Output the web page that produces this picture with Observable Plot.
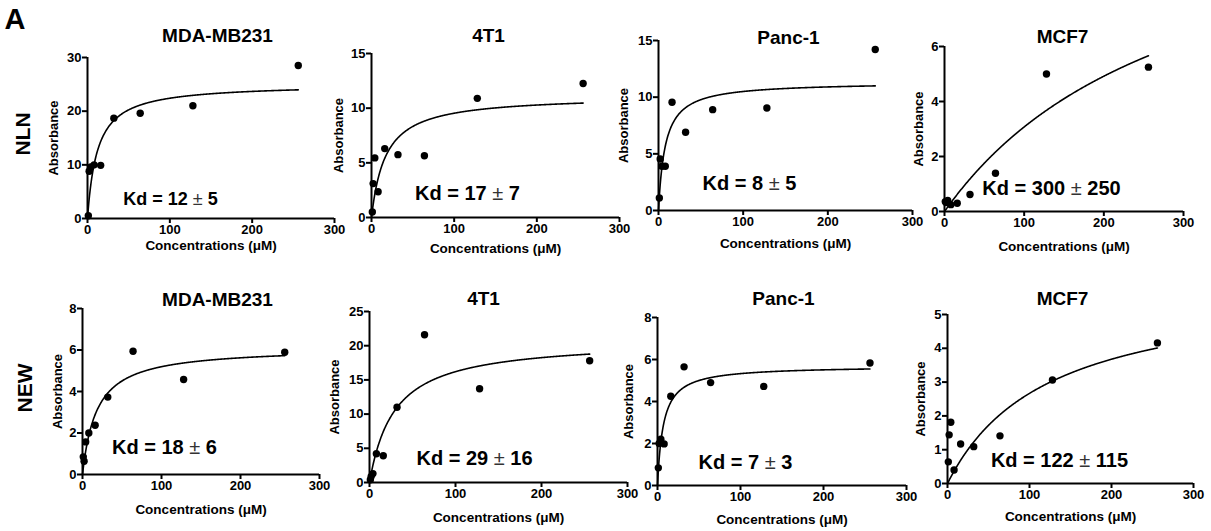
<!DOCTYPE html>
<html><head><meta charset="utf-8">
<script src="https://cdn.jsdelivr.net/npm/d3@7"></script>
<script src="https://cdn.jsdelivr.net/npm/@observablehq/plot@0.6"></script>
<style>
html,body{margin:0;padding:0;background:#fff;}
#fig{position:relative;width:1211px;height:531px;overflow:hidden;font-family:"Liberation Sans",Arial,sans-serif;background:#fff;}
.lbl{position:absolute;font-weight:bold;color:#000;white-space:nowrap;line-height:1;}
</style></head><body><div id="fig"></div>
<script>
// ---- data ----
const conc = [1, 2, 4, 8, 16, 32, 64, 128, 256];
const cellLines = ["MDA-MB231", "4T1", "Panc-1", "MCF7"];
const groups = ["NLN", "NEW"];
const nlnMDA  = [0.5, 8.8, 9.6, 10.0, 9.9, 18.7, 19.6, 21.0, 28.5];
const nln4T1  = [0.5, 3.1, 5.45, 2.35, 6.3, 5.75, 5.65, 10.9, 12.25];
const nlnPanc = [1.1, 4.55, 3.9, 3.9, 9.55, 6.9, 8.9, 9.05, 14.2];
const nlnMCF7 = [0.36, 0.33, 0.4, 0.25, 0.3, 0.62, 1.39, 5.0, 5.25];
const newMDA  = [0.85, 0.64, 1.57, 2.0, 2.37, 3.73, 5.94, 4.58, 5.89];
const new4T1  = [0.4, 0.9, 1.3, 4.2, 3.9, 11.0, 21.6, 13.7, 17.8];
const newPanc = [0.84, 2.0, 2.2, 1.98, 4.25, 5.65, 4.9, 4.72, 5.83];
const newMCF7 = [0.64, 1.44, 1.81, 0.4, 1.17, 1.09, 1.41, 3.06, 4.16];
const kd     = [12, 17, 8, 300, 18, 29, 7, 122];
const kdErr  = [5, 7, 5, 250, 6, 16, 3, 115];
const bmax   = [25.1, 11.16, 11.34, 12.3, 6.13, 20.9, 5.70, 5.92];
const yMax   = [30, 15, 15, 6, 8, 25, 8, 5];
const yTicks = [[0,10,20,30],[0,5,10,15],[0,5,10,15],[0,2,4,6],[0,2,4,6,8],[0,5,10,15,20,25],[0,2,4,6,8],[0,1,2,3,4,5]];
const xTicks = [0, 100, 200, 300];
const xLabel = "Concentrations (μM)";
const yLabel = "Absorbance";

const series = [nlnMDA, nln4T1, nlnPanc, nlnMCF7, newMDA, new4T1, newPanc, newMCF7];

// ---- layout (pixels) ----
const frames = [
  {x0:87, x1:334, top:57, bot:218, title:[217,35], kd:[170,199], kdSize:18, yl:34, xl:27},
  {x0:371, x1:619, top:53, bot:217, title:[488,35], kd:[467,193], kdSize:20, yl:33, xl:31},
  {x0:658, x1:912, top:40, bot:210, title:[788,37], kd:[749,183], kdSize:20, yl:35, xl:33},
  {x0:944, x1:1183, top:46, bot:211, title:[1062,36], kd:[1051,188], kdSize:20, yl:26, xl:35},
  {x0:82, x1:319, top:308, bot:474, title:[217,299], kd:[164,447], kdSize:20, yl:25, xl:35},
  {x0:369, x1:627, top:311, bot:482, title:[483,298], kd:[474,458], kdSize:20, yl:35, xl:35},
  {x0:657, x1:906, top:317, bot:485, title:[783,298], kd:[745,462], kdSize:20, yl:29, xl:34},
  {x0:947, x1:1193, top:314, bot:483, title:[1062,298], kd:[1059,460], kdSize:20, yl:27, xl:33}
];
const FONT = '"Liberation Sans", Arial, sans-serif';
const mL = 60, mR = 30, mT = 45, mB = 50;
const fig = document.getElementById("fig");

series.forEach((vals, i) => {
  const f = frames[i];
  const pts = conc.map((c, j) => ({x: c, y: vals[j]}));
  const fit = d3.range(0, 256.001, 0.5).map(c => ({x: c, y: bmax[i] * c / (kd[i] + c)}));
  const kdText = `Kd = ${kd[i]} ± ${kdErr[i]}`;
  const svg = Plot.plot({
    width: f.x1 - f.x0 + mL + mR,
    height: f.bot - f.top + mT + mB,
    marginLeft: mL, marginRight: mR, marginTop: mT, marginBottom: mB,
    style: {fontFamily: FONT, fontSize: "13px", fontWeight: "bold", color: "#000", background: "none", overflow: "visible"},
    x: {domain: [0, 300]},
    y: {domain: [0, yMax[i]]},
    marks: [
      Plot.axisX({ticks: xTicks, tickSize: 5, tickPadding: 1, strokeWidth: 2, label: null, tickFormat: d => String(d)}),
      Plot.axisY({ticks: yTicks[i], tickSize: 5, tickPadding: 1, strokeWidth: 2, label: null, tickFormat: d => String(d)}),
      Plot.ruleX([0], {strokeWidth: 2}),
      Plot.ruleY([0], {strokeWidth: 2}),
      Plot.line(fit, {x: "x", y: "y", strokeWidth: 1.6, stroke: "#000"}),
      Plot.dot(pts, {x: "x", y: "y", r: 3.7, fill: "#000", stroke: null}),
      Plot.text([cellLines[i % 4]], {frameAnchor: "top-left", text: d => d, dx: f.title[0] - f.x0, dy: f.title[1] - f.top, textAnchor: "middle", lineAnchor: "middle", fontSize: 19}),
      Plot.text([kdText], {frameAnchor: "top-left", text: d => d, dx: f.kd[0] - f.x0, dy: f.kd[1] - f.top, textAnchor: "middle", lineAnchor: "middle", fontSize: f.kdSize}),
      Plot.text([yLabel], {frameAnchor: "left", text: d => d, dx: -f.yl, rotate: -90, textAnchor: "middle", lineAnchor: "middle", fontSize: 13}),
      Plot.text([xLabel], {frameAnchor: "bottom", text: d => d, dy: f.xl, textAnchor: "middle", lineAnchor: "middle", fontSize: 13.5})
    ]
  });
  svg.querySelectorAll("text").forEach(t => {
    const s = t.textContent;
    if (s.includes("±")) {
      const [a, b] = s.split("±");
      while (t.firstChild) t.removeChild(t.firstChild);
      const NS = "http://www.w3.org/2000/svg";
      const t1 = document.createElementNS(NS, "tspan"); t1.textContent = a;
      const t2 = document.createElementNS(NS, "tspan"); t2.textContent = "±"; t2.setAttribute("font-weight", "normal"); t2.setAttribute("fill", "#333");
      const t3 = document.createElementNS(NS, "tspan"); t3.textContent = b;
      t.append(t1, t2, t3);
    }
  });
  svg.style.position = "absolute";
  svg.style.left = (f.x0 - mL) + "px";
  svg.style.top = (f.top - mT) + "px";
  svg.style.maxWidth = "none";
  fig.appendChild(svg);
});

// panel letter and row labels
function label(text, x, y, size, rot) {
  const d = document.createElement("div");
  d.className = "lbl";
  d.textContent = text;
  d.style.fontSize = size + "px";
  d.style.left = x + "px";
  d.style.top = y + "px";
  d.style.transform = "translate(-50%,-50%)" + (rot ? " rotate(-90deg)" : "");
  fig.appendChild(d);
}
label("A", 15, 19, 29, false);
label(groups[0], 22, 134, 21, true);
label(groups[1], 24, 388, 21, true);
</script></body></html>
